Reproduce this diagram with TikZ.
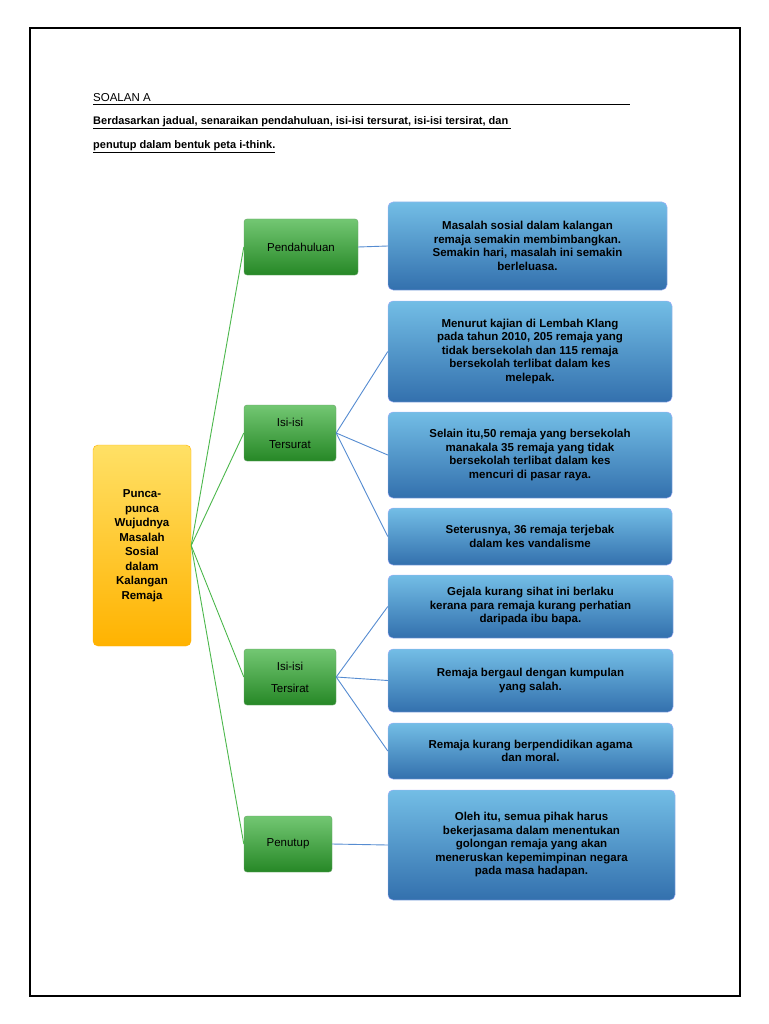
\documentclass[tikz,border=0pt]{standalone}
\usepackage{fontspec}
\setmainfont{Liberation Sans}
\begin{document}
\begin{tikzpicture}[x=1pt,y=-1pt,
  bluebox/.style={draw=white!70!blue, rounded corners=5pt, top color=blue!35!cyan!50!white!90!black, bottom color=blue!50!cyan!60!black!80, fill=blue!40!cyan!60!gray, font=\bfseries\fontsize{11.5}{13.5}\selectfont, align=center, inner sep=0pt},
  greenbox/.style={draw=green!40!black!60, rounded corners=3pt, top color=green!60!black!55!white, bottom color=green!45!black!85, font=\fontsize{11.5}{13.5}\selectfont, align=center, inner sep=0pt},
  gline/.style={draw=green!60!black!70!white, line width=0.9pt},
  bline/.style={draw=cyan!50!blue!70!white, line width=0.9pt}]
\useasboundingbox (0,0) rectangle (768,1024);
\fill[white] (0,0) rectangle (768,1024);
\draw[line width=2.5pt] (30,28) rectangle (740,996);
\node[anchor=base west, font=\fontsize{11.5}{13}\selectfont, inner sep=0] (t1) at (93,102) {SOALAN A};
\draw (93,104) -- (630,104);
\node[anchor=base west, font=\bfseries\fontsize{11}{13}\selectfont, inner sep=0] (t2) at (93,125) {\underline{Berdasarkan jadual, senaraikan pendahuluan, isi-isi tersurat, isi-isi tersirat, dan\ }};
\node[anchor=base west, font=\bfseries\fontsize{11}{13}\selectfont, inner sep=0] (t3) at (93,149) {\underline{penutup dalam bentuk peta i-think.}};

\node[draw=orange!60!yellow, rounded corners=5pt, top color=yellow!60!orange!60, bottom color=orange!60!yellow, minimum width=98pt, minimum height=201pt, font=\bfseries\fontsize{11.5}{14.5}\selectfont, align=center, inner sep=0] (c) at (142,545.5) {Punca-\\punca\\Wujudnya\\Masalah\\Sosial\\dalam\\Kalangan\\Remaja};

\node[greenbox, minimum width=114pt, minimum height=56pt] (g1) at (301,247) {Pendahuluan};
\node[greenbox, minimum width=92pt, minimum height=56pt, font=\fontsize{11.5}{22}\selectfont] (g2) at (290,433) {Isi-isi\\Tersurat};
\node[greenbox, minimum width=92pt, minimum height=56pt, font=\fontsize{11.5}{22}\selectfont] (g3) at (290,677) {Isi-isi\\Tersirat};
\node[greenbox, minimum width=88pt, minimum height=56pt] (g4) at (288,844) {Penutup};

\node[bluebox, minimum width=279pt, minimum height=88pt] (b1) at (527.5,246) {Masalah sosial dalam kalangan\\remaja semakin membimbangkan.\\Semakin hari, masalah ini semakin\\berleluasa.};
\node[bluebox, minimum width=284pt, minimum height=101pt] (b2) at (530,351.5) {Menurut kajian di Lembah Klang\\pada tahun 2010, 205 remaja yang\\tidak bersekolah dan 115 remaja\\bersekolah terlibat dalam kes\\melepak.};
\node[bluebox, minimum width=284pt, minimum height=86pt] (b3) at (530,455) {Selain itu,50 remaja yang bersekolah\\manakala 35 remaja yang tidak\\bersekolah terlibat dalam kes\\mencuri di pasar raya.};
\node[bluebox, minimum width=284pt, minimum height=57pt] (b4) at (530,536.5) {Seterusnya, 36 remaja terjebak\\dalam kes vandalisme};
\node[bluebox, minimum width=285pt, minimum height=63pt] (b5) at (530.5,606.5) {Gejala kurang sihat ini berlaku\\kerana para remaja kurang perhatian\\daripada ibu bapa.};
\node[bluebox, minimum width=285pt, minimum height=63pt] (b6) at (530.5,680.5) {Remaja bergaul dengan kumpulan\\yang salah.};
\node[bluebox, minimum width=285pt, minimum height=56pt] (b7) at (530.5,751) {Remaja kurang berpendidikan agama\\dan moral.};
\node[bluebox, minimum width=287pt, minimum height=110pt] (b8) at (531.5,845) {Oleh itu, semua pihak harus\\bekerjasama dalam menentukan\\golongan remaja yang akan\\meneruskan kepemimpinan negara\\pada masa hadapan.};

\coordinate (cr) at (c.east);
\foreach \g in {g1,g2,g3,g4} \draw[gline] (cr) -- (\g.west);
\draw[bline] (g1.east) -- (b1.west);
\foreach \b in {b2,b3,b4} \draw[bline] (g2.east) -- (\b.west);
\foreach \b in {b5,b6,b7} \draw[bline] (g3.east) -- (\b.west);
\draw[bline] (g4.east) -- (b8.west);
\end{tikzpicture}
\end{document}
